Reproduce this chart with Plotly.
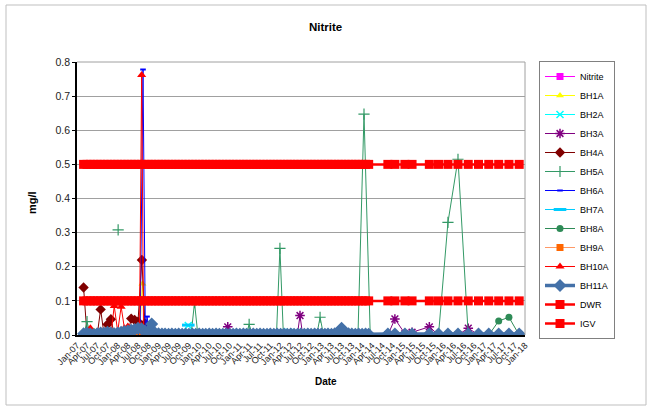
import plotly.graph_objects as go

# ---------------- data ----------------
SAMPLE_DATES = [
    "2007-03", "2007-04", "2007-05", "2007-06", "2007-07", "2007-08", "2007-09", "2007-10", "2007-11", "2007-12",
    "2008-01", "2008-02", "2008-03", "2008-04", "2008-05", "2008-06", "2008-07", "2008-08", "2008-09", "2008-10", "2008-11", "2008-12",
    "2009-01", "2009-02", "2009-03", "2009-04", "2009-05", "2009-06", "2009-07", "2009-08", "2009-09", "2009-10", "2009-11", "2009-12",
    "2010-01", "2010-02", "2010-03", "2010-04", "2010-05", "2010-06", "2010-07", "2010-08", "2010-09", "2010-10", "2010-11", "2010-12",
    "2011-01", "2011-02", "2011-03", "2011-04", "2011-05", "2011-06", "2011-07", "2011-08", "2011-09", "2011-10", "2011-11", "2011-12",
    "2012-01", "2012-02", "2012-03", "2012-04", "2012-05", "2012-06", "2012-07", "2012-08", "2012-09", "2012-10", "2012-11", "2012-12",
    "2013-01", "2013-02", "2013-03", "2013-04", "2013-05", "2013-06", "2013-07", "2013-08", "2013-09", "2013-10", "2013-11", "2013-12",
    "2014-01", "2014-02", "2014-03",
    "2014-08-20", "2014-10-22", "2015-01-20", "2015-03-25", "2015-08-27", "2015-11-17",
    "2016-02-10", "2016-05-10", "2016-08-10", "2016-11-10", "2017-02-10", "2017-05-10", "2017-08-10", "2017-11-10",
]

BH11A_VALUES = [
    0.004, 0.006, 0.003, 0.002, 0.004, 0.006, 0.005, 0.008, 0.006, 0.004,
    0.006, 0.008, 0.010, 0.012, 0.014, 0.016, 0.020, 0.018, 0.012, 0.010, 0.032, 0.006,
    0.004, 0.003, 0.003, 0.002, 0.003, 0.002, 0.003, 0.002, 0.003, 0.002, 0.003, 0.002,
    0.003, 0.002, 0.002, 0.003, 0.002, 0.003, 0.002, 0.002, 0.003, 0.002, 0.002, 0.003,
    0.002, 0.003, 0.002, 0.002, 0.003, 0.002, 0.003, 0.002, 0.002, 0.003, 0.002, 0.003,
    0.002, 0.003, 0.002, 0.003, 0.002, 0.002, 0.003, 0.002, 0.003, 0.002, 0.003, 0.002,
    0.003, 0.002, 0.003, 0.002, 0.004, 0.008, 0.020, 0.008, 0.004, 0.003, 0.002, 0.003,
    0.002, 0.003, 0.002,
    0.003, 0.003, 0.003, 0.003, 0.003, 0.003,
    0.003, 0.003, 0.003, 0.003, 0.003, 0.003, 0.003, 0.003,
]

DWR_LIMIT = 0.5
IGV_LIMIT = 0.1

NITRITE_DATES = ["2007-03", "2007-09", "2008-03"]
NITRITE_VALUES = [0.0, 0.0, 0.0]

BH1A_DATES = ["2007-03", "2007-06", "2007-09", "2007-12", "2008-04", "2008-07-15", "2008-08-10", "2008-09-01",
              "2009-06", "2011-06", "2013-06", "2014-08-20", "2016-02-10", "2017-11-10"]
BH1A_VALUES = [0.004, 0.012, 0.010, 0.008, 0.006, 0.0, 0.15, 0.0, 0.0, 0.0, 0.0, 0.0, 0.0, 0.0]

BH2A_DATES = ["2007-04", "2008-02", "2009-08-25", "2009-09-25", "2009-10-25", "2012-03-15", "2014-08-20", "2017-11-10"]
BH2A_VALUES = [0.0, 0.0, None, 0.028, None, 0.008, 0.0, 0.0]

BH3A_DATES = ["2007-03", "2009-06", "2010-09-04", "2010-09-14", "2010-09-24", "2012-05-30", "2012-06-23", "2012-07-17",
              "2012-12-01", "2014-08-20", "2014-10-22", "2015-01-20", "2015-03-25", "2015-08-27", "2015-11-17",
              "2016-05-10", "2016-08-10", "2016-11-10", "2017-11-10"]
BH3A_VALUES = [0.0, 0.0, 0.0, 0.024, 0.0, 0.0, 0.057, 0.0, 0.006, 0.0, 0.047, 0.004, 0.008, 0.024, 0.0,
               0.0, 0.020, 0.0, 0.0]

BH4A_DATES = ["2007-03", "2007-04", "2007-07", "2007-08", "2007-09", "2007-10", "2007-11", "2007-12", "2008-04",
              "2008-05", "2008-06", "2008-07", "2008-08-05", "2008-09", "2008-10", "2009-06", "2012-01", "2014-08-20", "2017-11-10"]
BH4A_VALUES = [0.139, 0.0, 0.0, 0.075, 0.0, 0.031, 0.046, 0.004, 0.003, 0.048, 0.044, 0.039, 0.22, 0.034, 0.0,
               0.0, 0.0, 0.0, 0.0]

BH5A_DATES = ["2007-03", "2007-04", "2007-05", "2007-12", "2008-01-05", "2008-02", "2009-10-20", "2009-11-20", "2009-12-20",
              "2011-02-25", "2011-03-25", "2011-04-25", "2011-11-25", "2011-12-26", "2012-01-26", "2012-11-20", "2012-12-20",
              "2013-01-20", "2013-11-25", "2014-01-18", "2014-03-15", "2014-08-20", "2015-11-17", "2016-02-10",
              "2016-05-10", "2016-08-10", "2017-11-10"]
BH5A_VALUES = [0.0, 0.039, 0.0, None, 0.308, None, 0.0, 0.095, 0.0,
               0.0, 0.031, 0.0, 0.0, 0.254, 0.0, 0.0, 0.052,
               0.0, 0.0, 0.647, 0.0, 0.0, 0.0, 0.33,
               0.515, 0.0, 0.0]

BH6A_DATES = ["2007-06", "2008-07-20", "2008-08-15", "2008-09-05", "2008-09-20", "2008-10-15", "2010-01", "2014-08-20", "2017-11-10"]
BH6A_VALUES = [0.0, 0.0, 0.778, 0.0, 0.054, 0.0, 0.0, 0.0, 0.0]

BH7A_DATES = ["2007-05", "2009-08-25", "2009-09-25", "2009-10-25", "2014-08-20", "2017-11-10"]
BH7A_VALUES = [0.0, None, 0.029, None, 0.0, 0.0]

BH8A_DATES = ["2007-05", "2010-06", "2014-08-20", "2016-11-10", "2017-02-10", "2017-05-10", "2017-08-10", "2017-11-10"]
BH8A_VALUES = [0.0, 0.0, 0.0, 0.0, 0.0, 0.041, 0.052, 0.0]

BH9A_DATES = ["2007-03", "2007-06", "2007-09", "2007-12", "2008-03", "2008-06", "2008-08-10", "2008-09", "2008-12",
              "2009-06", "2010-06", "2011-06", "2012-06", "2013-06", "2014-08-20", "2014-10-22", "2015-01-20",
              "2015-03-25", "2015-08-27", "2015-11-17", "2016-02-10", "2016-05-10", "2016-08-10", "2016-11-10",
              "2017-02-10", "2017-05-10", "2017-08-10", "2017-11-10"]
BH9A_VALUES = [0.0, 0.002, 0.0, 0.003, 0.0, 0.002, 0.008, 0.0, 0.0,
               0.0, 0.0, 0.0, 0.0, 0.0, 0.0, 0.0, 0.0,
               0.0, 0.0, 0.0, 0.0, 0.0, 0.0, 0.0,
               0.0, 0.0, 0.0, 0.0]

BH10A_DATES = ["2007-03", "2007-05", "2007-06", "2007-11", "2007-12", "2008-01", "2008-02", "2008-03", "2008-04",
               "2008-05", "2008-07-15", "2008-08-03", "2008-08-20", "2008-10", "2009-06", "2011-06", "2013-06",
               "2014-08-20", "2014-10-22", "2015-01-20", "2015-03-25", "2015-08-27", "2015-11-17", "2016-02-10",
               "2016-05-10", "2016-08-10", "2016-11-10", "2017-02-10", "2017-05-10", "2017-08-10", "2017-11-10"]
BH10A_VALUES = [0.0, 0.02, 0.0, 0.0, 0.085, 0.01, 0.083, 0.02, 0.025,
                0.012, 0.03, 0.762, 0.0, 0.0, 0.0, 0.0, 0.0,
                0.0, 0.0, 0.0, 0.0, 0.0, 0.0, 0.0,
                0.0, 0.0, 0.0, 0.0, 0.0, 0.0, 0.0]

Y_TICKS = [0.0, 0.1, 0.2, 0.3, 0.4, 0.5, 0.6, 0.7, 0.8]

FONT = "Liberation Sans, Arial, sans-serif"

# ---------------- figure ----------------
fig = go.Figure()


def add(name, x, y, color, symbol, size, lw=1.0, mline=0.0, line_color=None):
    fig.add_trace(go.Scatter(
        x=x, y=y, name=name, mode="lines+markers",
        line=dict(color=line_color or color, width=lw),
        marker=dict(color=color, symbol=symbol, size=size,
                    line=dict(color=color, width=mline)),
        connectgaps=False,
    ))


add("Nitrite", NITRITE_DATES, NITRITE_VALUES, "#FF00FF", "square", 7)
add("BH1A", BH1A_DATES, BH1A_VALUES, "#FFFF00", "triangle-up", 7)
add("BH2A", BH2A_DATES, BH2A_VALUES, "#00FFFF", "x-thin-open", 7, mline=1.5)
add("BH3A", BH3A_DATES, BH3A_VALUES, "#800080", "asterisk-open", 8, mline=1.5)
add("BH4A", BH4A_DATES, BH4A_VALUES, "#800000", "diamond", 8)
add("BH5A", BH5A_DATES, BH5A_VALUES, "#339966", "cross-thin-open", 8, mline=1.2)
add("BH6A", BH6A_DATES, BH6A_VALUES, "#0000FF", "line-ew-open", 4, mline=2)
add("BH7A", BH7A_DATES, BH7A_VALUES, "#00CCFF", "line-ew-open", 9, mline=3)
add("BH8A", BH8A_DATES, BH8A_VALUES, "#2E8B57", "circle", 7)
add("BH9A", BH9A_DATES, BH9A_VALUES, "#FF6600", "square", 7, line_color="#FF9966")
add("BH10A", BH10A_DATES, BH10A_VALUES, "#FF0000", "triangle-up", 8)
add("BH11A", SAMPLE_DATES, BH11A_VALUES, "#4471A8", "diamond", 10, lw=3.5)
add("DWR", SAMPLE_DATES, [DWR_LIMIT] * len(SAMPLE_DATES), "#FF0000", "square", 9, lw=2.5)
add("IGV", SAMPLE_DATES, [IGV_LIMIT] * len(SAMPLE_DATES), "#FF0000", "square", 9, lw=2.5)

W, H = 651, 408
L, R, T, B = 77, 525, 62, 335
pw, ph = R - L, B - T


def px(xp):
    return (xp - L) / pw


def py(yp):
    return (B - yp) / ph


fig.update_layout(
    width=W, height=H,
    margin=dict(l=L, r=W - R, t=T, b=H - B, pad=0),
    paper_bgcolor="white", plot_bgcolor="white",
    font=dict(family=FONT, size=10, color="#000000"),
    showlegend=True,
    legend=dict(
        x=px(539), xanchor="left", y=py(200), yanchor="middle",
        bordercolor="#808080", borderwidth=1, bgcolor="white",
        font=dict(family=FONT, size=9, color="#000000"),
        itemclick=False, maxheight=400,
    ),
    xaxis=dict(
        type="date", range=["2007-01-01", "2018-01-01"],
        tick0="2007-01-01", dtick="M3", tickformat="%b-%y", tickangle=-45,
        tickfont=dict(size=9, color="#222222"),
        showgrid=False, zeroline=False,
        showline=True, linecolor="#000000", linewidth=1.5,
        ticks="", fixedrange=True,
    ),
    yaxis=dict(
        range=[0, 0.8], tickvals=Y_TICKS, tickformat=".1f",
        tickfont=dict(size=10.5, color="#222222"),
        showgrid=True, gridcolor="#A0A0A0", gridwidth=1,
        zeroline=False, showline=True, linecolor="#000000", linewidth=1.5,
        ticks="outside", ticklen=3, tickcolor="#000000",
        fixedrange=True,
    ),
    annotations=[
        dict(text="<b>Nitrite</b>", xref="paper", yref="paper", x=px(325), y=py(27),
             showarrow=False, font=dict(size=11.5, family=FONT), xanchor="center", yanchor="middle"),
        dict(text="<b>Date</b>", xref="paper", yref="paper", x=px(326), y=py(381),
             showarrow=False, font=dict(size=10, family=FONT), xanchor="center", yanchor="middle"),
        dict(text="<b>mg/l</b>", xref="paper", yref="paper", x=px(32), y=py(203),
             showarrow=False, textangle=-90, font=dict(size=11, family=FONT), xanchor="center", yanchor="middle"),
    ],
    shapes=[
        dict(type="rect", xref="paper", yref="paper", x0=px(6), x1=px(646), y0=py(405), y1=py(5),
             line=dict(color="#BFBFBF", width=1), fillcolor="rgba(0,0,0,0)", layer="below"),
        dict(type="line", xref="paper", yref="paper", x0=1, x1=1, y0=0, y1=1,
             line=dict(color="#A0A0A0", width=1)),
        dict(type="line", xref="paper", yref="paper", x0=0, x1=1, y0=1, y1=1,
             line=dict(color="#A0A0A0", width=1)),
    ],
)

fig.write_html("out.html", config={"displayModeBar": False})
